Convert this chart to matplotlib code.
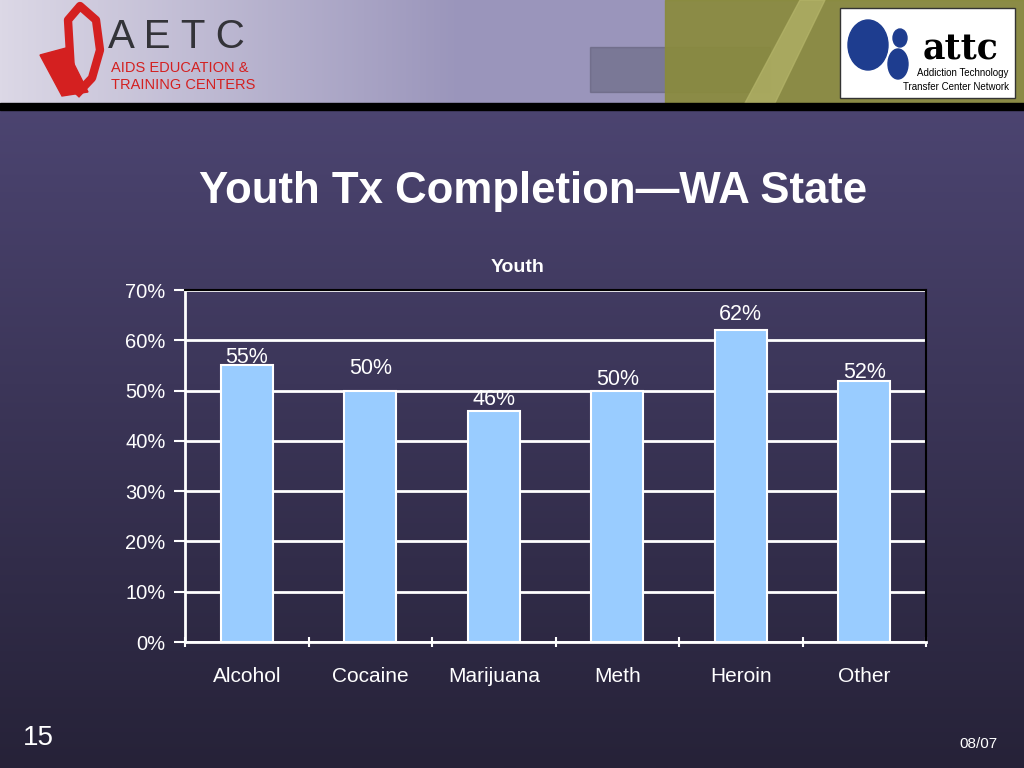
import numpy as np
import matplotlib.pyplot as plt
from matplotlib.patches import Rectangle, Polygon, Ellipse

# Youth treatment completion, WA State
categories = ["Alcohol", "Cocaine", "Marijuana", "Meth", "Heroin", "Other"]
completion = [55, 50, 46, 50, 62, 52]
y_ticks = [0, 10, 20, 30, 40, 50, 60, 70]

# label nudges above the bar top (points), as on the slide
label_nudge = [6, 16, 8, 8, 11, 6]

W, H = 1024, 768
fig = plt.figure(figsize=(10.24, 7.68), dpi=100)

def fx(px):
    return px / W

def fy(py):
    return 1 - py / H

# slide background gradient
bg = fig.add_axes([0, 0, 1, 1])
bg.set_axis_off()
grad = np.linspace(0, 1, 256).reshape(-1, 1)
top = np.array([0x52, 0x4a, 0x7a]) / 255
bot = np.array([0x26, 0x22, 0x38]) / 255
img = top + (bot - top) * grad[:, :, None]
bg.imshow(img, aspect="auto", extent=[0, 1, 0, 1], origin="upper")
bg.set_xlim(0, 1)
bg.set_ylim(0, 1)

# header banner
hx = np.linspace(0, 1, 512)
left = np.array([0xdc, 0xd8, 0xe6]) / 255
mid = np.array([0x9a, 0x95, 0xbb]) / 255
col = np.where(hx[:, None] < 0.45, left + (mid - left) * (hx[:, None] / 0.45), mid)
bg.imshow(col[None, :, :], aspect="auto", extent=[0, 1, fy(103), 1], zorder=1)
bg.add_patch(Rectangle((fx(590), fy(92)), fx(180), 45 / H, color="#55556a", alpha=0.45, zorder=2))
bg.add_patch(Polygon([[fx(665), fy(103)], [fx(665), 1], [1, 1], [1, fy(103)]],
                     closed=True, color="#8a8b3c", alpha=0.92, zorder=2))
bg.add_patch(Polygon([[fx(745), fy(103)], [fx(800), 1], [fx(825), 1], [fx(775), fy(103)]],
                     closed=True, color="#b5b56a", alpha=0.7, zorder=2))
bg.add_patch(Rectangle((0, fy(110)), 1, 7 / H, color="black", zorder=3))

# AETC logo
bg.add_patch(Polygon([[fx(40), fy(55)], [fx(66), fy(48)], [fx(88), fy(92)], [fx(62), fy(96)]],
                     closed=True, color="#d42020", zorder=4))
bg.plot([fx(72), fx(68), fx(80), fx(96), fx(100), fx(92), fx(76)],
        [fy(88), fy(20), fy(6), fy(20), fy(50), fy(78), fy(95)],
        color="#d42020", lw=6, zorder=4, solid_capstyle="butt")
bg.text(fx(108), fy(37), "A E T C", fontsize=29, color="#333338", va="center", ha="left", zorder=4,
        family="Liberation Sans")
bg.text(fx(111), fy(68), "AIDS EDUCATION &", fontsize=10.5, color="#d42020", va="center", zorder=4,
        family="Liberation Sans")
bg.text(fx(111), fy(85), "TRAINING CENTERS", fontsize=10.5, color="#d42020", va="center", zorder=4,
        family="Liberation Sans")

# ATTC logo
bg.add_patch(Rectangle((fx(840), fy(98)), fx(175), 90 / H, facecolor="white",
                       edgecolor="#333333", lw=1, zorder=4))
bg.add_patch(Ellipse((fx(868), fy(45)), fx(40), 50 / H, color="#1e3d8f", zorder=5))
bg.add_patch(Ellipse((fx(900), fy(38)), fx(14), 18 / H, color="#1e3d8f", zorder=5))
bg.add_patch(Ellipse((fx(898), fy(64)), fx(20), 30 / H, color="#1e3d8f", zorder=5))
bg.text(fx(961), fy(50), "attc", fontsize=25, color="black", fontweight="bold",
        family="DejaVu Serif", ha="center", va="center", zorder=5)
bg.text(fx(963), fy(73), "Addiction Technology", fontsize=7, color="black", ha="center", va="center",
        zorder=5, family="Liberation Sans")
bg.text(fx(956), fy(87), "Transfer Center Network", fontsize=7, color="black", ha="center", va="center",
        zorder=5, family="Liberation Sans")

# slide texts
fig.text(fx(533), fy(192), "Youth Tx Completion\u2014WA State", fontsize=31.5,
         fontweight="bold", color="white", ha="center", va="center", family="Liberation Sans")
fig.text(fx(38), fy(738), "15", fontsize=20, color="white", ha="center", va="center",
         family="Liberation Sans")
fig.text(fx(978), fy(744), "08/07", fontsize=11, color="white", ha="center", va="center",
         family="Liberation Sans")
fig.text(fx(518), fy(268), "Youth", fontsize=14, fontweight="bold", color="white", ha="center",
         va="center", family="Liberation Sans")

# chart
ax = fig.add_axes([fx(185), fy(642), fx(741), 352 / H])
ax.patch.set_alpha(0)
x = np.arange(len(categories))
ax.bar(x, completion, width=0.42, color="#99ccff", edgecolor="white", linewidth=1.5, zorder=3)
ax.set_xlim(-0.5, len(categories) - 0.5)
ax.set_ylim(0, 70)
ax.set_yticks(y_ticks)
ax.set_yticklabels([f"{v}%" for v in y_ticks], fontsize=14.5, color="white", family="Liberation Sans")
ax.yaxis.grid(True, color="white", lw=2, zorder=1)
ax.tick_params(axis="y", colors="white", length=8, width=1.5, pad=6, labelcolor="white")

ax.set_xticks(x)
ax.set_xticklabels(categories, fontsize=15, color="white", family="Liberation Sans")
ax.set_xticks(np.arange(len(categories) + 1) - 0.5, minor=True)
ax.tick_params(axis="x", which="major", length=0, pad=18)
ax.tick_params(axis="x", which="minor", length=7, width=1.5, color="white", direction="inout")

for s in ["left", "bottom"]:
    ax.spines[s].set_color("white")
    ax.spines[s].set_linewidth(2)
for s in ["top", "right"]:
    ax.spines[s].set_color("black")
    ax.spines[s].set_linewidth(1.5)

for xi, v, dy in zip(x, completion, label_nudge):
    ax.annotate(f"{v}%", (xi, v), xytext=(0, dy), textcoords="offset points",
                ha="center", va="center", fontsize=15.5, color="white", family="Liberation Sans", zorder=4)

fig.savefig("out.png", dpi=100)
